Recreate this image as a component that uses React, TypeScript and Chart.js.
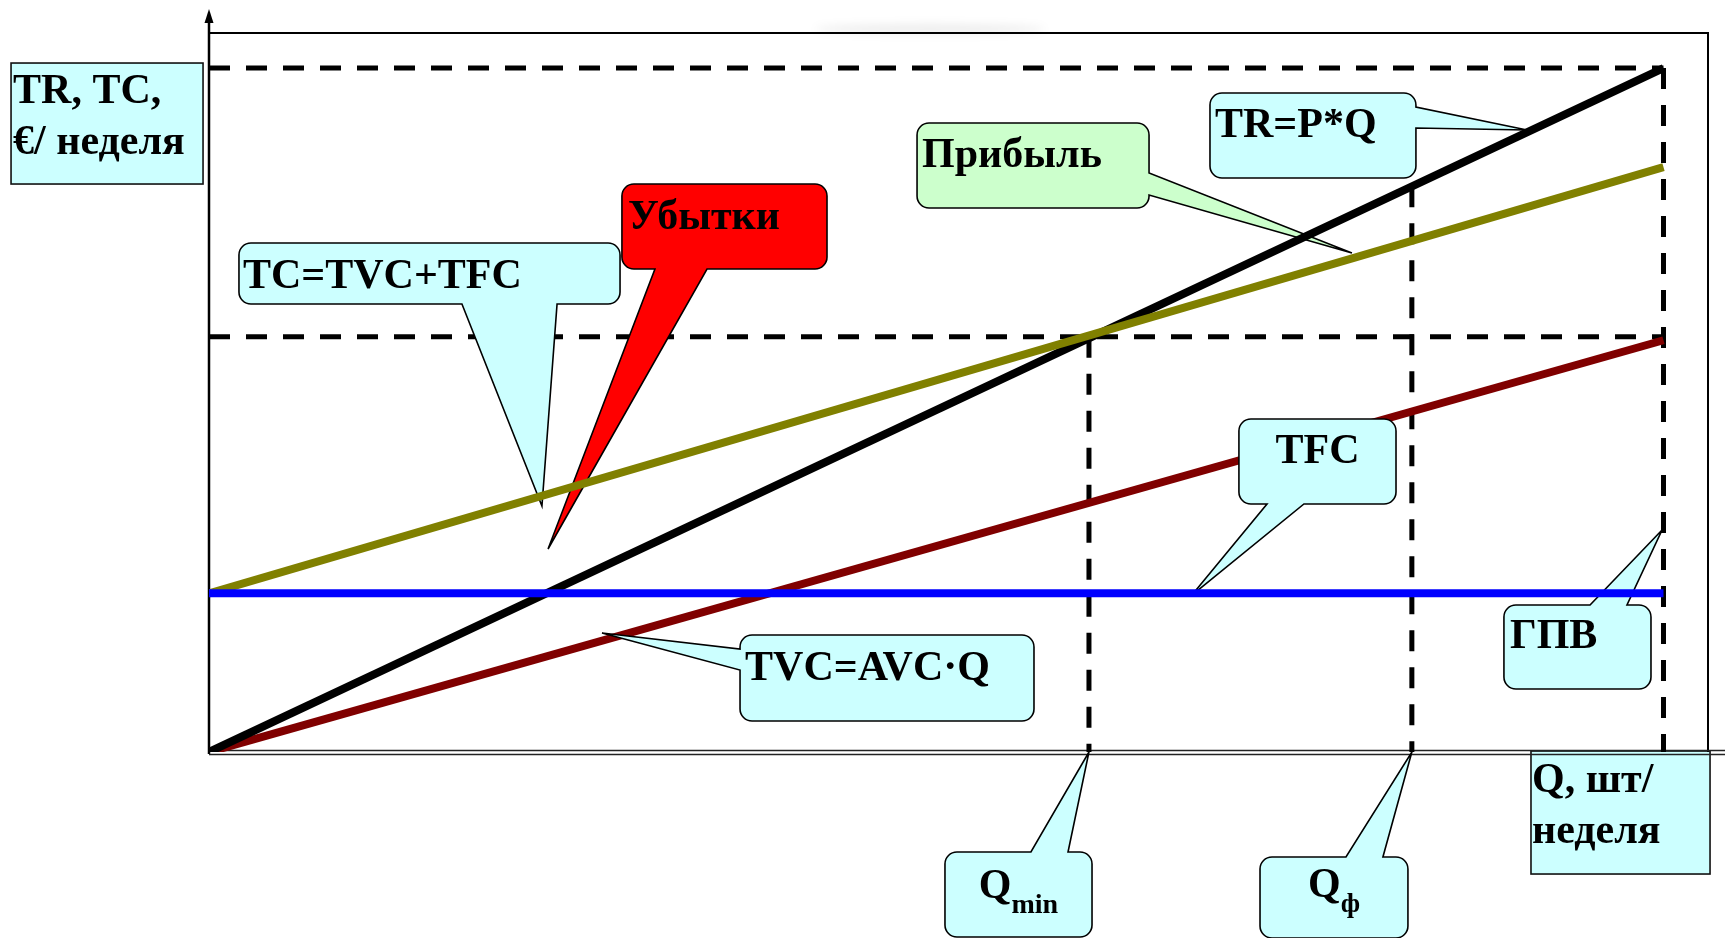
import React, { useEffect, useRef } from "react";
import { Chart, registerables } from "chart.js";

Chart.register(...registerables);

// ---- data ----
const Q_POINTS = [0, 10];
const TR_VALUES = [0, 100];
const TC_VALUES = [23.2, 85.5];
const TFC_VALUES = [23.2, 23.2];
const TVC_VALUES = [0, 60.2];

const Q_MIN = 6.05;
const Q_F = 8.27;
const Q_END = 10;
const BREAK_EVEN_LEVEL = 60.7;
const TR_AT_QF = 82.7;
const TR_TOP = 100;

const X_MAX = 10.306;
const Y_MAX = 105.12;

const FONT = '"Liberation Serif", "Times New Roman", serif';

type Callout = {
  text: string;
  sub?: string;
  box: [number, number, number, number]; // x0, yTop, x1, yBottom (data units)
  edge: "top" | "bottom" | "left" | "right";
  base: [number, number]; // positions along the edge (data units)
  tip: [number, number]; // data units
  fill: string;
  align: "left" | "center";
  dx: number;
  dy: number;
};

const CALLOUTS: Callout[] = [
  { text: "TC=TVC+TFC", box: [0.206, 74.42, 2.826, 65.5], edge: "bottom", base: [1.739, 2.393], tip: [2.289, 35.96], fill: "#CCFFFF", align: "left", dx: 4, dy: 45 },
  { text: "Убытки", box: [2.839, 83.04, 4.249, 70.61], edge: "bottom", base: [3.066, 3.424], tip: [2.331, 29.68], fill: "#FF0000", align: "left", dx: 6, dy: 45 },
  { text: "Прибыль", box: [4.868, 91.96, 6.463, 79.53], edge: "right", base: [84.65, 81.43], tip: [7.858, 72.95], fill: "#CCFFCC", align: "left", dx: 5, dy: 44 },
  { text: "TR=P*Q", box: [6.882, 96.35, 8.298, 83.92], edge: "right", base: [94.3, 91.23], tip: [9.062, 90.94], fill: "#CCFFFF", align: "left", dx: 5, dy: 44 },
  { text: "TFC", box: [7.081, 48.68, 8.161, 36.26], edge: "bottom", base: [7.274, 7.528], tip: [6.758, 22.95], fill: "#CCFFFF", align: "center", dx: 0, dy: 44 },
  { text: "ГПВ", box: [8.903, 21.49, 9.914, 9.21], edge: "top", base: [9.495, 9.749], tip: [9.99, 32.46], fill: "#CCFFFF", align: "left", dx: 6, dy: 43 },
  { text: "TVC=AVC·Q", box: [3.651, 17.11, 5.672, 4.53], edge: "left", base: [15.06, 11.99], tip: [2.702, 17.4], fill: "#CCFFFF", align: "left", dx: 5, dy: 45 },
  { text: "Q", sub: "min", box: [5.06, -14.62, 6.071, -27.05], edge: "top", base: [5.651, 5.906], tip: [Q_MIN, 0], fill: "#CCFFFF", align: "center", dx: 0, dy: 46 },
  { text: "Q", sub: "ф", box: [7.226, -15.35, 8.243, -27.19], edge: "top", base: [7.817, 8.071], tip: [Q_F, 0], fill: "#CCFFFF", align: "center", dx: 0, dy: 40 },
];

type TitleBox = { lines: string[]; box: [number, number, number, number]; dx: number; dy: number[] };
const TITLES: TitleBox[] = [
  { lines: ["TR, TC,", "€/ неделя"], box: [-1.361, 100.73, -0.041, 83.04], dx: 2, dy: [40, 91] },
  { lines: ["Q, шт/", "неделя"], box: [9.089, 0.146, 10.32, -17.84], dx: 1, dy: [41, 92] },
];

function pts(xs: number[], ys: number[]) {
  return xs.map((x, i) => ({ x, y: ys[i] }));
}

function calloutPath(
  ctx: CanvasRenderingContext2D,
  x0: number, y0: number, x1: number, y1: number, r: number,
  edge: string, a: number, b: number, tx: number, ty: number
) {
  ctx.beginPath();
  ctx.moveTo(x0 + r, y0);
  if (edge === "top") { ctx.lineTo(a, y0); ctx.lineTo(tx, ty); ctx.lineTo(b, y0); }
  ctx.lineTo(x1 - r, y0);
  ctx.arcTo(x1, y0, x1, y0 + r, r);
  if (edge === "right") { ctx.lineTo(x1, a); ctx.lineTo(tx, ty); ctx.lineTo(x1, b); }
  ctx.lineTo(x1, y1 - r);
  ctx.arcTo(x1, y1, x1 - r, y1, r);
  if (edge === "bottom") { ctx.lineTo(b, y1); ctx.lineTo(tx, ty); ctx.lineTo(a, y1); }
  ctx.lineTo(x0 + r, y1);
  ctx.arcTo(x0, y1, x0, y1 - r, r);
  if (edge === "left") { ctx.lineTo(x0, b); ctx.lineTo(tx, ty); ctx.lineTo(x0, a); }
  ctx.lineTo(x0, y0 + r);
  ctx.arcTo(x0, y0, x0 + r, y0, r);
  ctx.closePath();
}

function drawCallouts(chart: any) {
  const ctx: CanvasRenderingContext2D = chart.ctx;
  const xs = chart.scales.x;
  const ys = chart.scales.y;
  const px = (v: number) => xs.getPixelForValue(v);
  const py = (v: number) => ys.getPixelForValue(v);
  ctx.save();
  for (const c of CALLOUTS) {
    const x0 = px(c.box[0]);
    const y0 = py(c.box[1]);
    const x1 = px(c.box[2]);
    const y1 = py(c.box[3]);
    let a: number, b: number;
    if (c.edge === "top" || c.edge === "bottom") {
      a = px(c.base[0]); b = px(c.base[1]);
    } else {
      a = py(c.base[0]); b = py(c.base[1]);
    }
    if (a > b) { const t = a; a = b; b = t; }
    calloutPath(ctx, x0, y0, x1, y1, 12, c.edge, a, b, px(c.tip[0]), py(c.tip[1]));
    ctx.fillStyle = c.fill;
    ctx.fill();
    ctx.lineWidth = 1.6;
    ctx.strokeStyle = "#000";
    ctx.lineJoin = "miter";
    ctx.stroke();

    ctx.fillStyle = "#000";
    ctx.textBaseline = "alphabetic";
    ctx.textAlign = "left";
    ctx.font = `bold 42px ${FONT}`;
    const mainW = ctx.measureText(c.text).width;
    let subW = 0;
    if (c.sub) {
      ctx.font = `bold 28px ${FONT}`;
      subW = ctx.measureText(c.sub).width;
    }
    const total = mainW + subW;
    const tx = c.align === "center" ? (x0 + x1) / 2 - total / 2 : x0 + c.dx;
    const ty = y0 + c.dy;
    ctx.font = `bold 42px ${FONT}`;
    ctx.fillText(c.text, tx, ty);
    if (c.sub) {
      ctx.font = `bold 28px ${FONT}`;
      ctx.fillText(c.sub, tx + mainW, ty + 15);
    }
  }
  ctx.restore();
}

const decorPlugin = {
  id: "decor",
  beforeDatasetsDraw(chart: any) {
    const ctx: CanvasRenderingContext2D = chart.ctx;
    const xs = chart.scales.x;
    const ys = chart.scales.y;
    const px = (v: number) => xs.getPixelForValue(v);
    const py = (v: number) => ys.getPixelForValue(v);
    const area = chart.chartArea;
    ctx.save();

    // faint smudge near top
    ctx.filter = "blur(4px)";
    ctx.fillStyle = "rgba(0,0,0,0.07)";
    ctx.beginPath();
    ctx.ellipse(px(4.957), py(105.7), 115, 5, 0, 0, Math.PI * 2);
    ctx.fill();
    ctx.filter = "none";

    // axis title boxes
    for (const t of TITLES) {
      const x0 = px(t.box[0]);
      const y0 = py(t.box[1]);
      const x1 = px(t.box[2]);
      const y1 = py(t.box[3]);
      ctx.fillStyle = "#CCFFFF";
      ctx.fillRect(x0, y0, x1 - x0, y1 - y0);
      ctx.lineWidth = 1.6;
      ctx.strokeStyle = "#111";
      ctx.strokeRect(x0, y0, x1 - x0, y1 - y0);
      ctx.fillStyle = "#000";
      ctx.font = `bold 42px ${FONT}`;
      ctx.textAlign = "left";
      ctx.textBaseline = "alphabetic";
      t.lines.forEach((l, i) => ctx.fillText(l, x0 + t.dx, y0 + t.dy[i]));
    }

    // frame (top and right)
    ctx.strokeStyle = "#000";
    ctx.lineWidth = 2;
    ctx.beginPath();
    ctx.moveTo(area.left, area.top);
    ctx.lineTo(area.right, area.top);
    ctx.lineTo(area.right, area.bottom);
    ctx.stroke();

    // y axis with arrow
    const ox = px(0);
    const oy = py(0);
    ctx.lineWidth = 2.5;
    ctx.beginPath();
    ctx.moveTo(ox, oy + 2);
    ctx.lineTo(ox, 20);
    ctx.stroke();
    ctx.fillStyle = "#000";
    ctx.beginPath();
    ctx.moveTo(ox, 9);
    ctx.lineTo(ox - 4.5, 23);
    ctx.lineTo(ox + 4.5, 23);
    ctx.closePath();
    ctx.fill();

    // x axis (double line)
    ctx.strokeStyle = "#222";
    ctx.lineWidth = 1.5;
    ctx.beginPath();
    ctx.moveTo(ox, oy - 1.5);
    ctx.lineTo(chart.width, oy - 1.5);
    ctx.moveTo(ox, oy + 2.5);
    ctx.lineTo(chart.width, oy + 2.5);
    ctx.stroke();
    ctx.restore();
  },
  beforeDatasetDraw(chart: any, args: any) {
    const ds = chart.data.datasets[args.index];
    if (ds && ds.label === "TR") drawCallouts(chart);
  },
};

const dashed = (label: string, data: { x: number; y: number }[]) => ({
  label,
  data,
  borderColor: "#000",
  borderWidth: 5,
  borderDash: [21, 16],
  pointRadius: 0,
  order: 10,
  clip: 6,
});

export default function App() {
  const ref = useRef<HTMLCanvasElement>(null);
  useEffect(() => {
    document.body.style.margin = "0";
    const chart = new Chart(ref.current as HTMLCanvasElement, {
      type: "line",
      data: {
        datasets: [
          { label: "TFC", data: pts(Q_POINTS, TFC_VALUES), borderColor: "#0000FF", borderWidth: 8, pointRadius: 0, order: 1 },
          { label: "TC", data: pts(Q_POINTS, TC_VALUES), borderColor: "#808000", borderWidth: 8, pointRadius: 0, order: 2 },
          { label: "TR", data: pts(Q_POINTS, TR_VALUES), borderColor: "#000000", borderWidth: 8, pointRadius: 0, order: 3 },
          { label: "TVC", data: pts(Q_POINTS, TVC_VALUES), borderColor: "#800000", borderWidth: 8, pointRadius: 0, order: 5 },
          dashed("top", [{ x: 0, y: TR_TOP }, { x: Q_END, y: TR_TOP }]),
          dashed("be", [{ x: 0, y: BREAK_EVEN_LEVEL }, { x: Q_END, y: BREAK_EVEN_LEVEL }]),
          dashed("qmin", [{ x: Q_MIN, y: BREAK_EVEN_LEVEL }, { x: Q_MIN, y: 0 }]),
          dashed("qf", [{ x: Q_F, y: TR_AT_QF }, { x: Q_F, y: 0 }]),
          dashed("qend", [{ x: Q_END, y: TR_TOP }, { x: Q_END, y: 0 }]),
        ] as any,
      },
      options: {
        animation: false,
        responsive: false,
        devicePixelRatio: 1,
        events: [],
        layout: { padding: { left: 209, top: 33, right: 17, bottom: 186 } },
        scales: {
          x: { type: "linear", min: 0, max: X_MAX, display: false },
          y: { type: "linear", min: 0, max: Y_MAX, display: false },
        },
        plugins: { legend: { display: false }, tooltip: { enabled: false }, title: { display: false } },
      },
      plugins: [decorPlugin],
    });
    return () => chart.destroy();
  }, []);
  return (
    <div style={{ position: "absolute", left: 0, top: 0, width: 1725, height: 938, background: "#fff" }}>
      <canvas ref={ref} width={1725} height={938} style={{ display: "block", width: 1725, height: 938 }} />
    </div>
  );
}
